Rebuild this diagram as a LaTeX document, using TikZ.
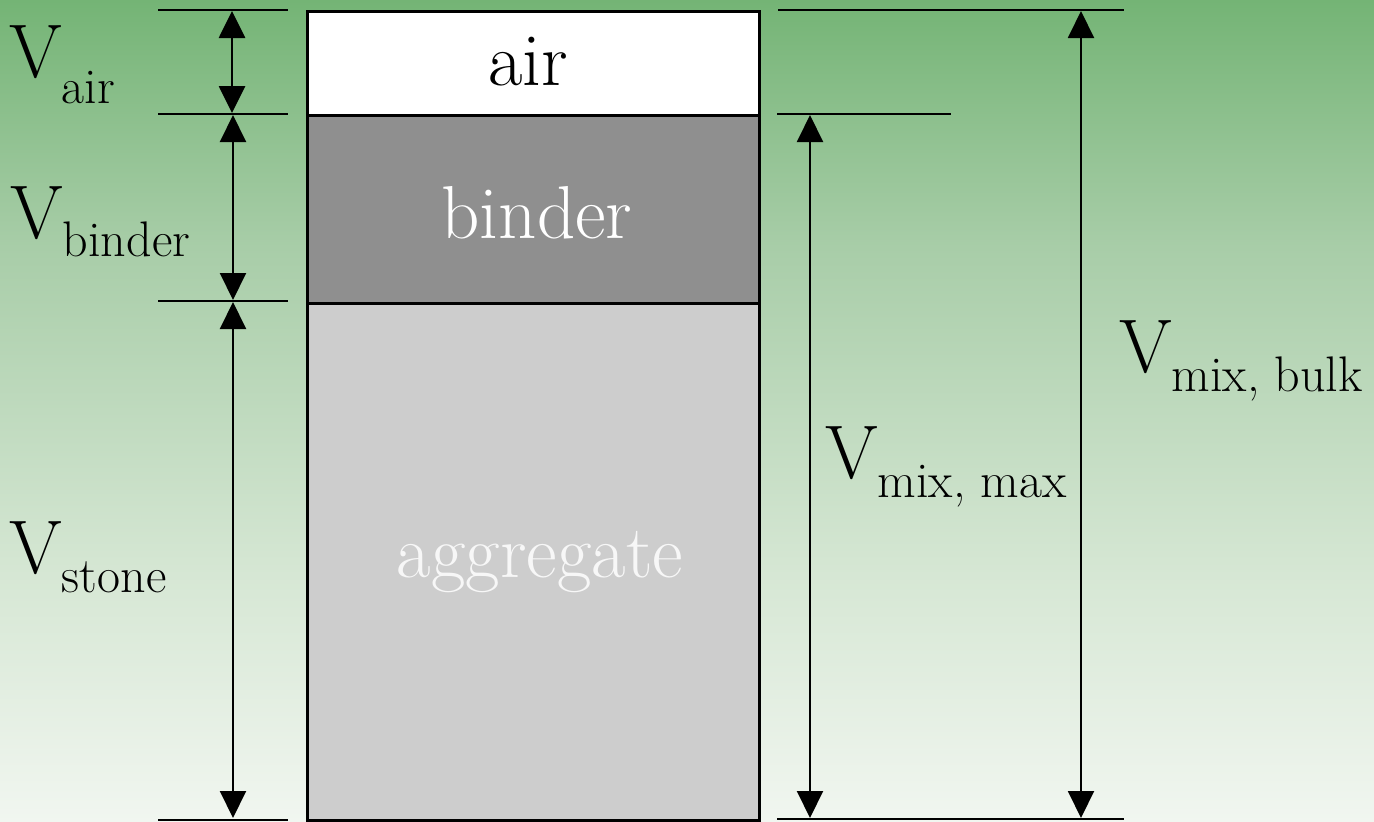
\documentclass[tikz,border=0pt]{standalone}
\usepackage{fontspec}
\usetikzlibrary{arrows.meta}
\definecolor{bgtop}{RGB}{116,180,117}
\definecolor{bgmidA}{RGB}{168,205,168}
\definecolor{bgmidB}{RGB}{214,231,212}
\definecolor{bgbot}{RGB}{241,246,240}
\definecolor{binderfill}{RGB}{143,143,143}
\definecolor{aggfill}{RGB}{205,205,205}
\pgfdeclareverticalshading{bgshade}{100bp}{color(0bp)=(bgbot); color(25bp)=(bgbot); color(40bp)=(bgmidB); color(60bp)=(bgmidA); color(75bp)=(bgtop); color(100bp)=(bgtop)}
\tikzset{
  guide/.style={line width=2.5pt},
  dim/.style={line width=2pt,{Triangle[length=27pt,width=26pt]}-{Triangle[length=27pt,width=26pt]}},
  layer/.style={draw=black,line width=2.8pt,anchor=north west,inner sep=0pt,minimum width=452pt},
  big/.style={font=\fontsize{75}{75}\selectfont},
  lbl/.style={anchor=base west,inner sep=0pt,font=\fontsize{76}{76}\selectfont},
}
\newcommand{\subtxt}[2]{\raisebox{-#1pt}{\fontsize{50}{50}\selectfont #2}}
\begin{document}
\begin{tikzpicture}[x=1pt,y=-1pt]
\shade[shading=bgshade] (0,0) rectangle (1374,822);
\useasboundingbox (0,0) rectangle (1374,822);
% layers
\node[layer,fill=white,minimum height=104pt] (air) at (306,10) {};
\node[layer,fill=binderfill,minimum height=188pt] (binder) at (306,114) {};
\node[layer,fill=aggfill,minimum height=517pt] (agg) at (306,302) {};
\node[big,anchor=base] (airt) at (528,85) {air};
\node[big,anchor=base,text=white] (bindert) at (537,238) {binder};
\node[big,anchor=base,text=white!97!black] (aggt) at (540,577) {aggregate};
% guide lines
\coordinate (l1a) at (158,10);  \coordinate (l1b) at (288,10);
\coordinate (l2a) at (158,114); \coordinate (l2b) at (288,114);
\coordinate (l3a) at (158,301); \coordinate (l3b) at (288,301);
\coordinate (l4a) at (158,820); \coordinate (l4b) at (288,820);
\coordinate (r1a) at (778,10);  \coordinate (r1b) at (1124,10);
\coordinate (r2a) at (777,114); \coordinate (r2b) at (951,114);
\coordinate (r4a) at (777,819); \coordinate (r4b) at (1124,819);
\draw[guide] (l1a) -- (l1b);
\draw[guide] (l2a) -- (l2b);
\draw[guide] (l3a) -- (l3b);
\draw[guide] (l4a) -- (l4b);
\draw[guide] (r1a) -- (r1b);
\draw[guide] (r2a) -- (r2b);
\draw[guide] (r4a) -- (r4b);
% dimension arrows
\coordinate (dA1) at (232,11);  \coordinate (dA2) at (232,113);
\coordinate (dB1) at (233,115); \coordinate (dB2) at (233,300);
\coordinate (dS1) at (233,302); \coordinate (dS2) at (233,818);
\coordinate (dM1) at (810,115); \coordinate (dM2) at (810,818);
\coordinate (dK1) at (1081,11); \coordinate (dK2) at (1081,818);
\draw[dim,line width=2.8pt] (dA1) -- (dA2);
\draw[dim] (dB1) -- (dB2);
\draw[dim] (dS1) -- (dS2);
\draw[dim] (dM1) -- (dM2);
\draw[dim] (dK1) -- (dK2);
% labels
\node[lbl] (vair) at (9,77) {V\subtxt{26}{air}};
\node[lbl] (vbinder) at (10,238) {V\subtxt{18}{binder}};
\node[lbl] (vstone) at (9,573) {V\subtxt{19}{stone}};
\node[lbl] (vmax) at (825,478) {V\subtxt{19}{mix, max}};
\node[lbl] (vbulk) at (1119,372) {V\subtxt{19}{mix, bulk}};
\end{tikzpicture}
\end{document}
